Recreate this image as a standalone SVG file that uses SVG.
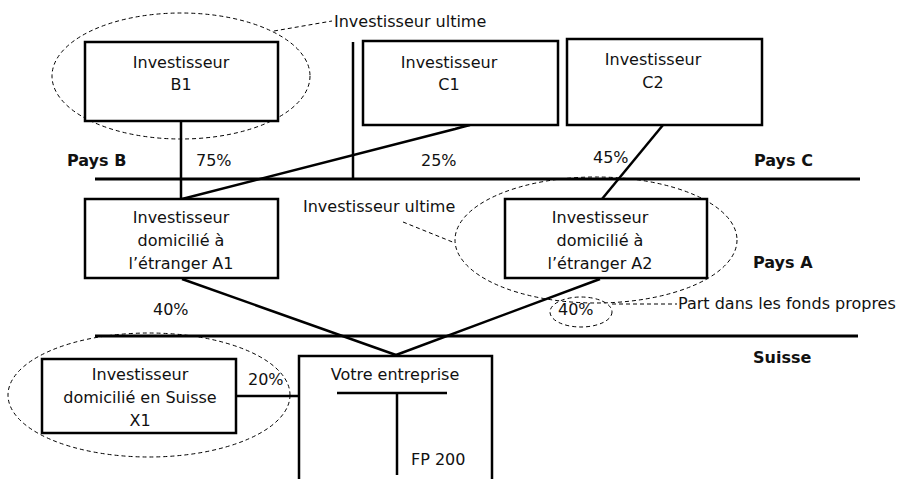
<svg xmlns="http://www.w3.org/2000/svg" width="911" height="479" viewBox="0 0 911 479">
<style>
text{font-family:"DejaVu Sans","Liberation Sans",sans-serif;font-size:16px;fill:#111}
.c{text-anchor:middle}
.b{font-weight:bold}
.box{fill:#fff;stroke:#000;stroke-width:2.5}
.ln{stroke:#000;stroke-width:2.5;fill:none}
.bd{stroke:#000;stroke-width:3;fill:none}
.ds{stroke:#000;stroke-width:1;fill:none;stroke-dasharray:4 3}
</style>
<rect width="911" height="479" fill="#fff"/>
<g id="borders">
<line class="bd" x1="95" y1="179" x2="860" y2="179"/>
<line class="bd" x1="95" y1="336" x2="858" y2="336"/>
<line class="ln" x1="353" y1="42" x2="353" y2="179"/>
<text class="b" x="67" y="166">Pays B</text>
<text class="b" x="754" y="166">Pays C</text>
<text class="b" x="753" y="268">Pays A</text>
<text class="b" x="753" y="363">Suisse</text>
</g>
<g id="connectors">
<line class="ln" x1="181" y1="121" x2="181" y2="199"/>
<path class="ln" d="M470,125 Q462,127 455,129 L182,199"/>
<line class="ln" x1="663" y1="125" x2="602" y2="199"/>
<line class="ln" x1="182" y1="279" x2="396" y2="355"/>
<line class="ln" x1="600" y1="279" x2="396" y2="355"/>
<line class="ln" x1="236" y1="396" x2="299" y2="396"/>
<text x="196" y="166">75%</text>
<text x="421" y="166">25%</text>
<text x="593" y="163">45%</text>
<text x="153" y="315">40%</text>
<text x="558" y="315">40%</text>
<text x="248" y="385">20%</text>
</g>
<g id="annotations">
<ellipse class="ds" cx="181" cy="76" rx="129" ry="63"/>
<line class="ds" x1="274" y1="31" x2="332" y2="21"/>
<text x="334" y="27">Investisseur ultime</text>
<ellipse class="ds" cx="596" cy="240" rx="141" ry="63"/>
<line class="ds" x1="403" y1="222" x2="455" y2="243"/>
<text x="303" y="212">Investisseur ultime</text>
<ellipse class="ds" cx="581" cy="312" rx="31" ry="15"/>
<line class="ds" x1="612" y1="304" x2="677" y2="304"/>
<text x="678" y="309">Part dans les fonds propres</text>
<ellipse class="ds" cx="149" cy="395" rx="141" ry="62"/>
</g>
<g id="B1">
<rect class="box" x="85" y="42" width="193" height="79"/>
<text class="c" x="181" y="68">Investisseur</text>
<text class="c" x="181" y="90">B1</text>
</g>
<g id="C1">
<rect class="box" x="363" y="41" width="195" height="84"/>
<text class="c" x="449" y="68">Investisseur</text>
<text class="c" x="449" y="90">C1</text>
</g>
<g id="C2">
<rect class="box" x="567" y="39" width="195" height="86"/>
<text class="c" x="653" y="65">Investisseur</text>
<text class="c" x="653" y="88">C2</text>
</g>
<g id="A1">
<rect class="box" x="85" y="199" width="193" height="79"/>
<text class="c" x="181" y="223">Investisseur</text>
<text class="c" x="181" y="246">domicilié à</text>
<text class="c" x="181" y="269">l’étranger A1</text>
</g>
<g id="A2">
<rect class="box" x="505" y="199" width="202" height="79"/>
<text class="c" x="600" y="223">Investisseur</text>
<text class="c" x="600" y="246">domicilié à</text>
<text class="c" x="600" y="269">l’étranger A2</text>
</g>
<g id="X1">
<rect class="box" x="42" y="359" width="194" height="74"/>
<text class="c" x="140" y="380">Investisseur</text>
<text class="c" x="140" y="403">domicilié en Suisse</text>
<text class="c" x="140" y="426">X1</text>
</g>
<g id="entreprise">
<path class="box" d="M299,485 V356 H492 V485"/>
<text class="c" x="395" y="380">Votre entreprise</text>
<line class="ln" x1="337" y1="393" x2="447" y2="393"/>
<line class="ln" x1="397" y1="393" x2="397" y2="475"/>
<text x="411" y="465">FP 200</text>
</g>
</svg>
